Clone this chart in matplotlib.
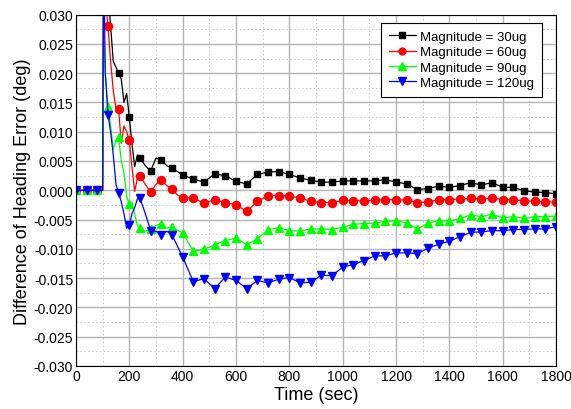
import numpy as np
import matplotlib
matplotlib.use('Agg')
import matplotlib.pyplot as plt
from matplotlib.ticker import MultipleLocator, FormatStrFormatter

plt.rcParams['font.family'] = ['Liberation Sans', 'DejaVu Sans']

# time axis (sec): 40 s grid plus a few extra points around the jump
time = [0, 40, 80, 100, 104, 110, 120, 130, 140, 150, 160, 170, 180, 190, 200,
        210, 220, 230, 240, 260, 280, 300, 320, 340, 360, 380, 400,
        440, 480, 520, 560, 600, 640, 680, 720, 760, 800, 840, 880, 920,
        960, 1000, 1040, 1080, 1120, 1160, 1200, 1240, 1280, 1320, 1360,
        1400, 1440, 1480, 1520, 1560, 1600, 1640, 1680, 1720, 1760, 1800]

mag30 = [0, 0, 0, 0, 0.045, 0.040, 0.034, 0.028, 0.022, 0.021, 0.020, 0.019,
         0.015, 0.0165, 0.0125, 0.008, 0.004, 0.006, 0.0055, 0.0042, 0.0033,
         0.0055, 0.0052, 0.0042, 0.0038, 0.0032, 0.0026,
         0.0019, 0.0014, 0.0028, 0.0025, 0.0015, 0.0011, 0.0027, 0.0031, 0.0032,
         0.0027, 0.0021, 0.0017, 0.0014, 0.0014, 0.0016, 0.0016, 0.0016, 0.0016,
         0.0018, 0.0014, 0.0011, 0.0001, 0.0003, 0.0007, 0.0005, 0.0008, 0.0013,
         0.0009, 0.0013, 0.0005, 0.0005, -0.0001, -0.0003, -0.0004, -0.0006]

mag60 = [0, 0, 0, 0, 0.035, 0.033, 0.028, 0.022, 0.017, 0.014, 0.0138, 0.008,
         0.011, 0.010, 0.0085, 0.004, -0.0002, 0.002, 0.0025, 0.001, -0.0003,
         0.001, 0.0018, 0.0008, 0.0002, -0.0008, -0.0013,
         -0.0013, -0.0022, -0.0016, -0.0021, -0.0025, -0.0036, -0.0019, -0.0009,
         -0.0009, -0.0010, -0.0013, -0.0019, -0.0021, -0.0021, -0.0017, -0.0018,
         -0.0018, -0.0017, -0.0016, -0.0016, -0.0017, -0.0021, -0.0020, -0.0016,
         -0.0016, -0.0015, -0.0014, -0.0015, -0.0013, -0.0016, -0.0016, -0.0018,
         -0.0019, -0.0020, -0.0020]

mag90 = [0, 0, 0, 0, 0.026, 0.020, 0.0142, 0.011, 0.007, 0.0085, 0.0091, 0.005,
         0.003, -0.001, -0.0024, -0.002, -0.004, -0.006, -0.0064, -0.007, -0.0066,
         -0.006, -0.0057, -0.0065, -0.0062, -0.0068, -0.0073,
         -0.0104, -0.0101, -0.0093, -0.0086, -0.0082, -0.0093, -0.0083, -0.0067,
         -0.0064, -0.0069, -0.0070, -0.0066, -0.0066, -0.0067, -0.0063, -0.0058,
         -0.0057, -0.0056, -0.0053, -0.0052, -0.0056, -0.0066, -0.0056, -0.0052,
         -0.0053, -0.0048, -0.0042, -0.0045, -0.0041, -0.0047, -0.0045, -0.0048,
         -0.0045, -0.0045, -0.0044]

mag120 = [0, 0, 0, 0, 0.040, 0.020, 0.0129, 0.010, 0.006, 0.001, -0.0005, -0.002,
          -0.004, -0.0065, -0.006, -0.004, -0.003, -0.0015, -0.0013, -0.004, -0.0069,
          -0.007, -0.0077, -0.007, -0.0076, -0.0095, -0.0114,
          -0.0156, -0.0151, -0.0168, -0.0148, -0.0154, -0.0168, -0.0154, -0.0158,
          -0.0152, -0.0149, -0.0158, -0.0157, -0.0145, -0.0146, -0.0131, -0.0127,
          -0.0120, -0.0112, -0.0112, -0.0107, -0.0107, -0.0108, -0.0099, -0.0092,
          -0.0087, -0.0079, -0.0072, -0.0071, -0.0069, -0.0069, -0.0067, -0.0067,
          -0.0066, -0.0066, -0.0062]

t = np.array(time)
marks = list(t % 40 == 0)

fig = plt.figure(figsize=(5.71, 4.10), dpi=100)
ax = fig.add_axes([0.133, 0.105, 0.841, 0.857])

ax.plot(t, mag30, '-s', color='black', lw=0.9, ms=4.8, markevery=marks, label='Magnitude = 30ug')
ax.plot(t, mag60, '-o', color='red', lw=0.9, ms=5.8, markevery=marks, label='Magnitude = 60ug')
ax.plot(t, mag90, '-^', color='#00ff00', lw=0.9, ms=6.3, markevery=marks, label='Magnitude = 90ug')
ax.plot(t, mag120, '-v', color='blue', lw=0.9, ms=6.3, markevery=marks, label='Magnitude = 120ug')

ax.set_xlim(0, 1800)
ax.set_ylim(-0.03, 0.03)
ax.xaxis.set_major_locator(MultipleLocator(200))
ax.xaxis.set_minor_locator(MultipleLocator(100))
ax.yaxis.set_major_locator(MultipleLocator(0.005))
ax.yaxis.set_minor_locator(MultipleLocator(0.0025))
ax.yaxis.set_major_formatter(FormatStrFormatter('%.3f'))

ax.grid(which='major', color='#b4b4b4', lw=1.0, ls='-')
ax.grid(which='minor', color='#c8c8c8', lw=0.7, ls=(0, (1.5, 2.5)))
ax.set_axisbelow(True)
ax.tick_params(which='both', length=0, labelsize=10, pad=2)

ax.set_xlabel('Time (sec)', fontsize=13, labelpad=2)
ax.set_ylabel('Difference of Heading Error (deg)', fontsize=13, labelpad=2)

leg = ax.legend(loc='upper right', fontsize=9.5, fancybox=False, framealpha=1,
                edgecolor='black', borderpad=0.6, handlelength=2.1, markerscale=0.85,
                labelspacing=0.24, handletextpad=0.3, borderaxespad=0,
                bbox_to_anchor=(0.971, 0.977))
leg.get_frame().set_linewidth(0.8)

fig.savefig('out.png', dpi=100)
